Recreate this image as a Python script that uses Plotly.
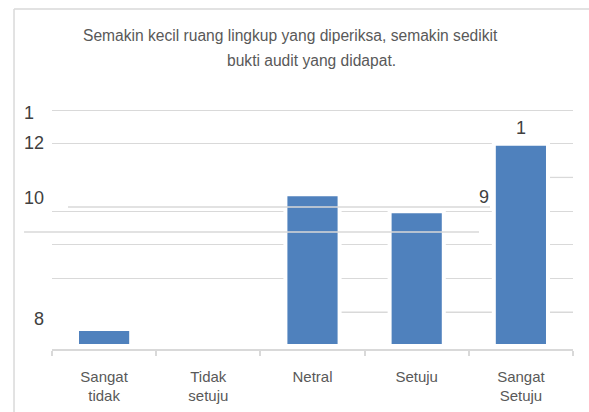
import plotly.graph_objects as go

# ---- data ----
categories = ["Sangat<br>tidak", "Tidak<br>setuju", "Netral", "Setuju", "Sangat<br>Setuju"]
values = [1, 0, 9, 8, 12]

# tick labels as printed on the (garbled) value axis
ytick_vals = [13.82, 12.04, 8.78, 1.6]
ytick_text = ["1\u00a0\u00a0", "12", "10", "8"]
grid_vals = [4, 6, 8, 12, 14]

title_line1 = "Semakin kecil ruang lingkup yang diperiksa, semakin sedikit"
title_line2 = "bukti audit yang didapat."

FONT = "Liberation Sans, Arial, sans-serif"
TXT = "#595959"
GRID = "#d9d9d9"
BAR = "#4f81bd"
YR = [-0.18, 14.178]

fig = go.Figure()
fig.add_trace(go.Bar(
    x=categories, y=values,
    marker=dict(color=BAR, line=dict(color="white", width=4)),
    width=0.52, hoverinfo="x+y",
))
# overlay trace on y2 so the printed tick labels appear
fig.add_trace(go.Scatter(x=[categories[0]], y=[None], yaxis="y2", showlegend=False, hoverinfo="skip"))

ann = [
    dict(text=title_line1, x=0.4587, y=1.2934, xref="paper", yref="paper",
         xanchor="center", yanchor="middle", showarrow=False,
         font=dict(family=FONT, size=15.6, color=TXT)),
    dict(text=title_line2, x=0.499, y=1.1942, xref="paper", yref="paper",
         xanchor="center", yanchor="middle", showarrow=False,
         font=dict(family=FONT, size=15.6, color=TXT)),
    dict(text="1", x=4, y=12.93, xref="x", yref="y", showarrow=False,
         xanchor="center", yanchor="middle", font=dict(family=FONT, size=18, color="#404040")),
    dict(text="9", x=3.646, y=8.84, xref="x", yref="y", showarrow=False,
         xanchor="center", yanchor="middle", font=dict(family=FONT, size=18, color="#404040")),
]

shapes = [
    # chart border (left and top)
    dict(type="line", xref="paper", yref="paper", x0=-0.0729, x1=-0.0729, y0=-0.5, y1=1.405,
         line=dict(color=GRID, width=1.5)),
    dict(type="line", xref="paper", yref="paper", x0=-0.0729, x1=1.2, y0=1.405, y1=1.405,
         line=dict(color=GRID, width=1.5)),
    # partial gridlines
    dict(type="line", xref="paper", yref="y", x0=0.5547, x1=1, y0=2, y1=2, layer="below",
         line=dict(color=GRID, width=1.3)),
    dict(type="line", xref="paper", yref="y", x0=0.952, x1=1, y0=10, y1=10, layer="below",
         line=dict(color=GRID, width=1.3)),
    # stray lines drawn above bars
    dict(type="line", xref="paper", yref="y", x0=0.0307, x1=0.8407, y0=8.245, y1=8.245, layer="above",
         line=dict(color=GRID, width=1.5)),
    dict(type="line", xref="paper", yref="y", x0=-0.0537, x1=0.8196, y0=6.76, y1=6.76, layer="above",
         line=dict(color=GRID, width=1.5)),
]

fig.update_layout(
    width=589, height=412,
    margin=dict(l=52, r=16, t=107, b=63),
    paper_bgcolor="white", plot_bgcolor="white",
    showlegend=False,
    bargap=0.48,
    font=dict(family=FONT, color=TXT),
    xaxis=dict(
        type="category", showline=True, linecolor=GRID, linewidth=1.5,
        ticks="outside", tickson="boundaries", ticklen=5, tickcolor=GRID, tickwidth=1.5,
        showgrid=False, tickfont=dict(family=FONT, size=15, color=TXT),
        ticklabelstandoff=13, automargin=False,
    ),
    yaxis=dict(
        range=YR, tickvals=grid_vals, showticklabels=False,
        showgrid=True, gridcolor=GRID, gridwidth=1.3, zeroline=False, showline=False,
        automargin=False,
    ),
    yaxis2=dict(
        range=YR, overlaying="y", side="left", anchor="x",
        tickvals=ytick_vals, ticktext=ytick_text, showgrid=False, zeroline=False,
        showline=False, ticks="", tickfont=dict(family=FONT, size=18, color="#404040"),
        ticklabelstandoff=7, automargin=False,
    ),
    annotations=ann, shapes=shapes,
)

fig.write_html(
    "out.html",
    config={"displayModeBar": False},
    post_script="document.body.style.margin='0';document.body.style.overflow='hidden';",
)
